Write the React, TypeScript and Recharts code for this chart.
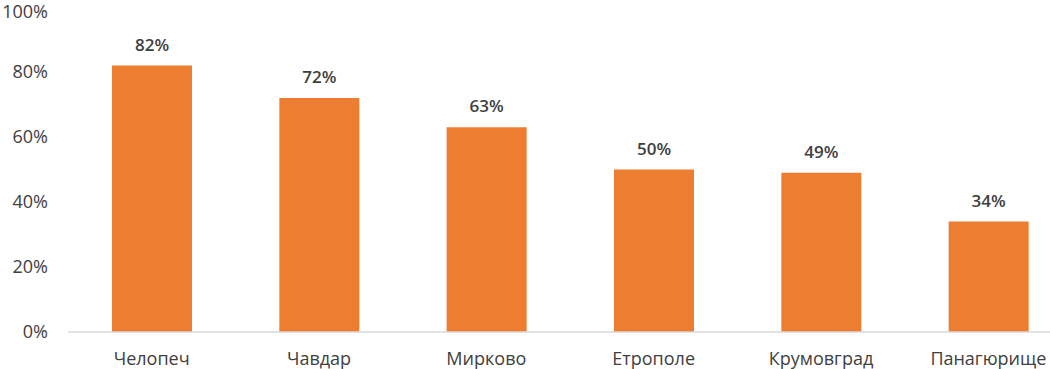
import React from "react";
import { BarChart, Bar, XAxis, YAxis, LabelList } from "recharts";

const towns = ["Челопеч", "Чавдар", "Мирково", "Етрополе", "Крумовград", "Панагюрище"];
const shares = [82, 72, 63, 50, 49, 34];
const yTicks = [0, 20, 40, 60, 80, 100];

const data = towns.map((name, i) => ({ name, value: shares[i] }));

const FONT = "'Open Sans', 'DejaVu Sans', sans-serif";

export default function App() {
  return (
    <div
      style={{
        width: 1050,
        height: 369,
        overflow: "hidden",
        background: "#fff",
        position: "relative",
      }}
    >
      <style>{"body { margin: 0; }"}</style>
      {/* the chart is wider than the window: the last category is cut off on the right, as in the original */}
      <BarChart
        width={1072}
        height={369}
        data={data}
        margin={{ top: 7, right: 0, left: 0, bottom: 0 }}
      >
        <XAxis
          dataKey="name"
          axisLine={{ stroke: "#d9d9d9", strokeWidth: 1.5 }}
          tickLine={false}
          height={37}
          interval={0}
          tickMargin={14}
          tick={{ fill: "#404040", fontSize: 18, fontFamily: FONT }}
        />
        <YAxis
          width={68}
          domain={[0, 100]}
          ticks={yTicks}
          axisLine={false}
          tickLine={false}
          tickMargin={14}
          tickFormatter={(v) => `${v}%`}
          tick={{ fill: "#404040", fontSize: 18, fontFamily: FONT }}
        />
        <Bar dataKey="value" fill="#ed7d31" barSize={80} isAnimationActive={false}>
          <LabelList
            dataKey="value"
            position="top"
            offset={15}
            formatter={(v: any) => `${v}%`}
            style={{ fill: "#404040", fontSize: 17, fontWeight: 600, fontFamily: FONT }}
          />
        </Bar>
      </BarChart>
    </div>
  );
}
